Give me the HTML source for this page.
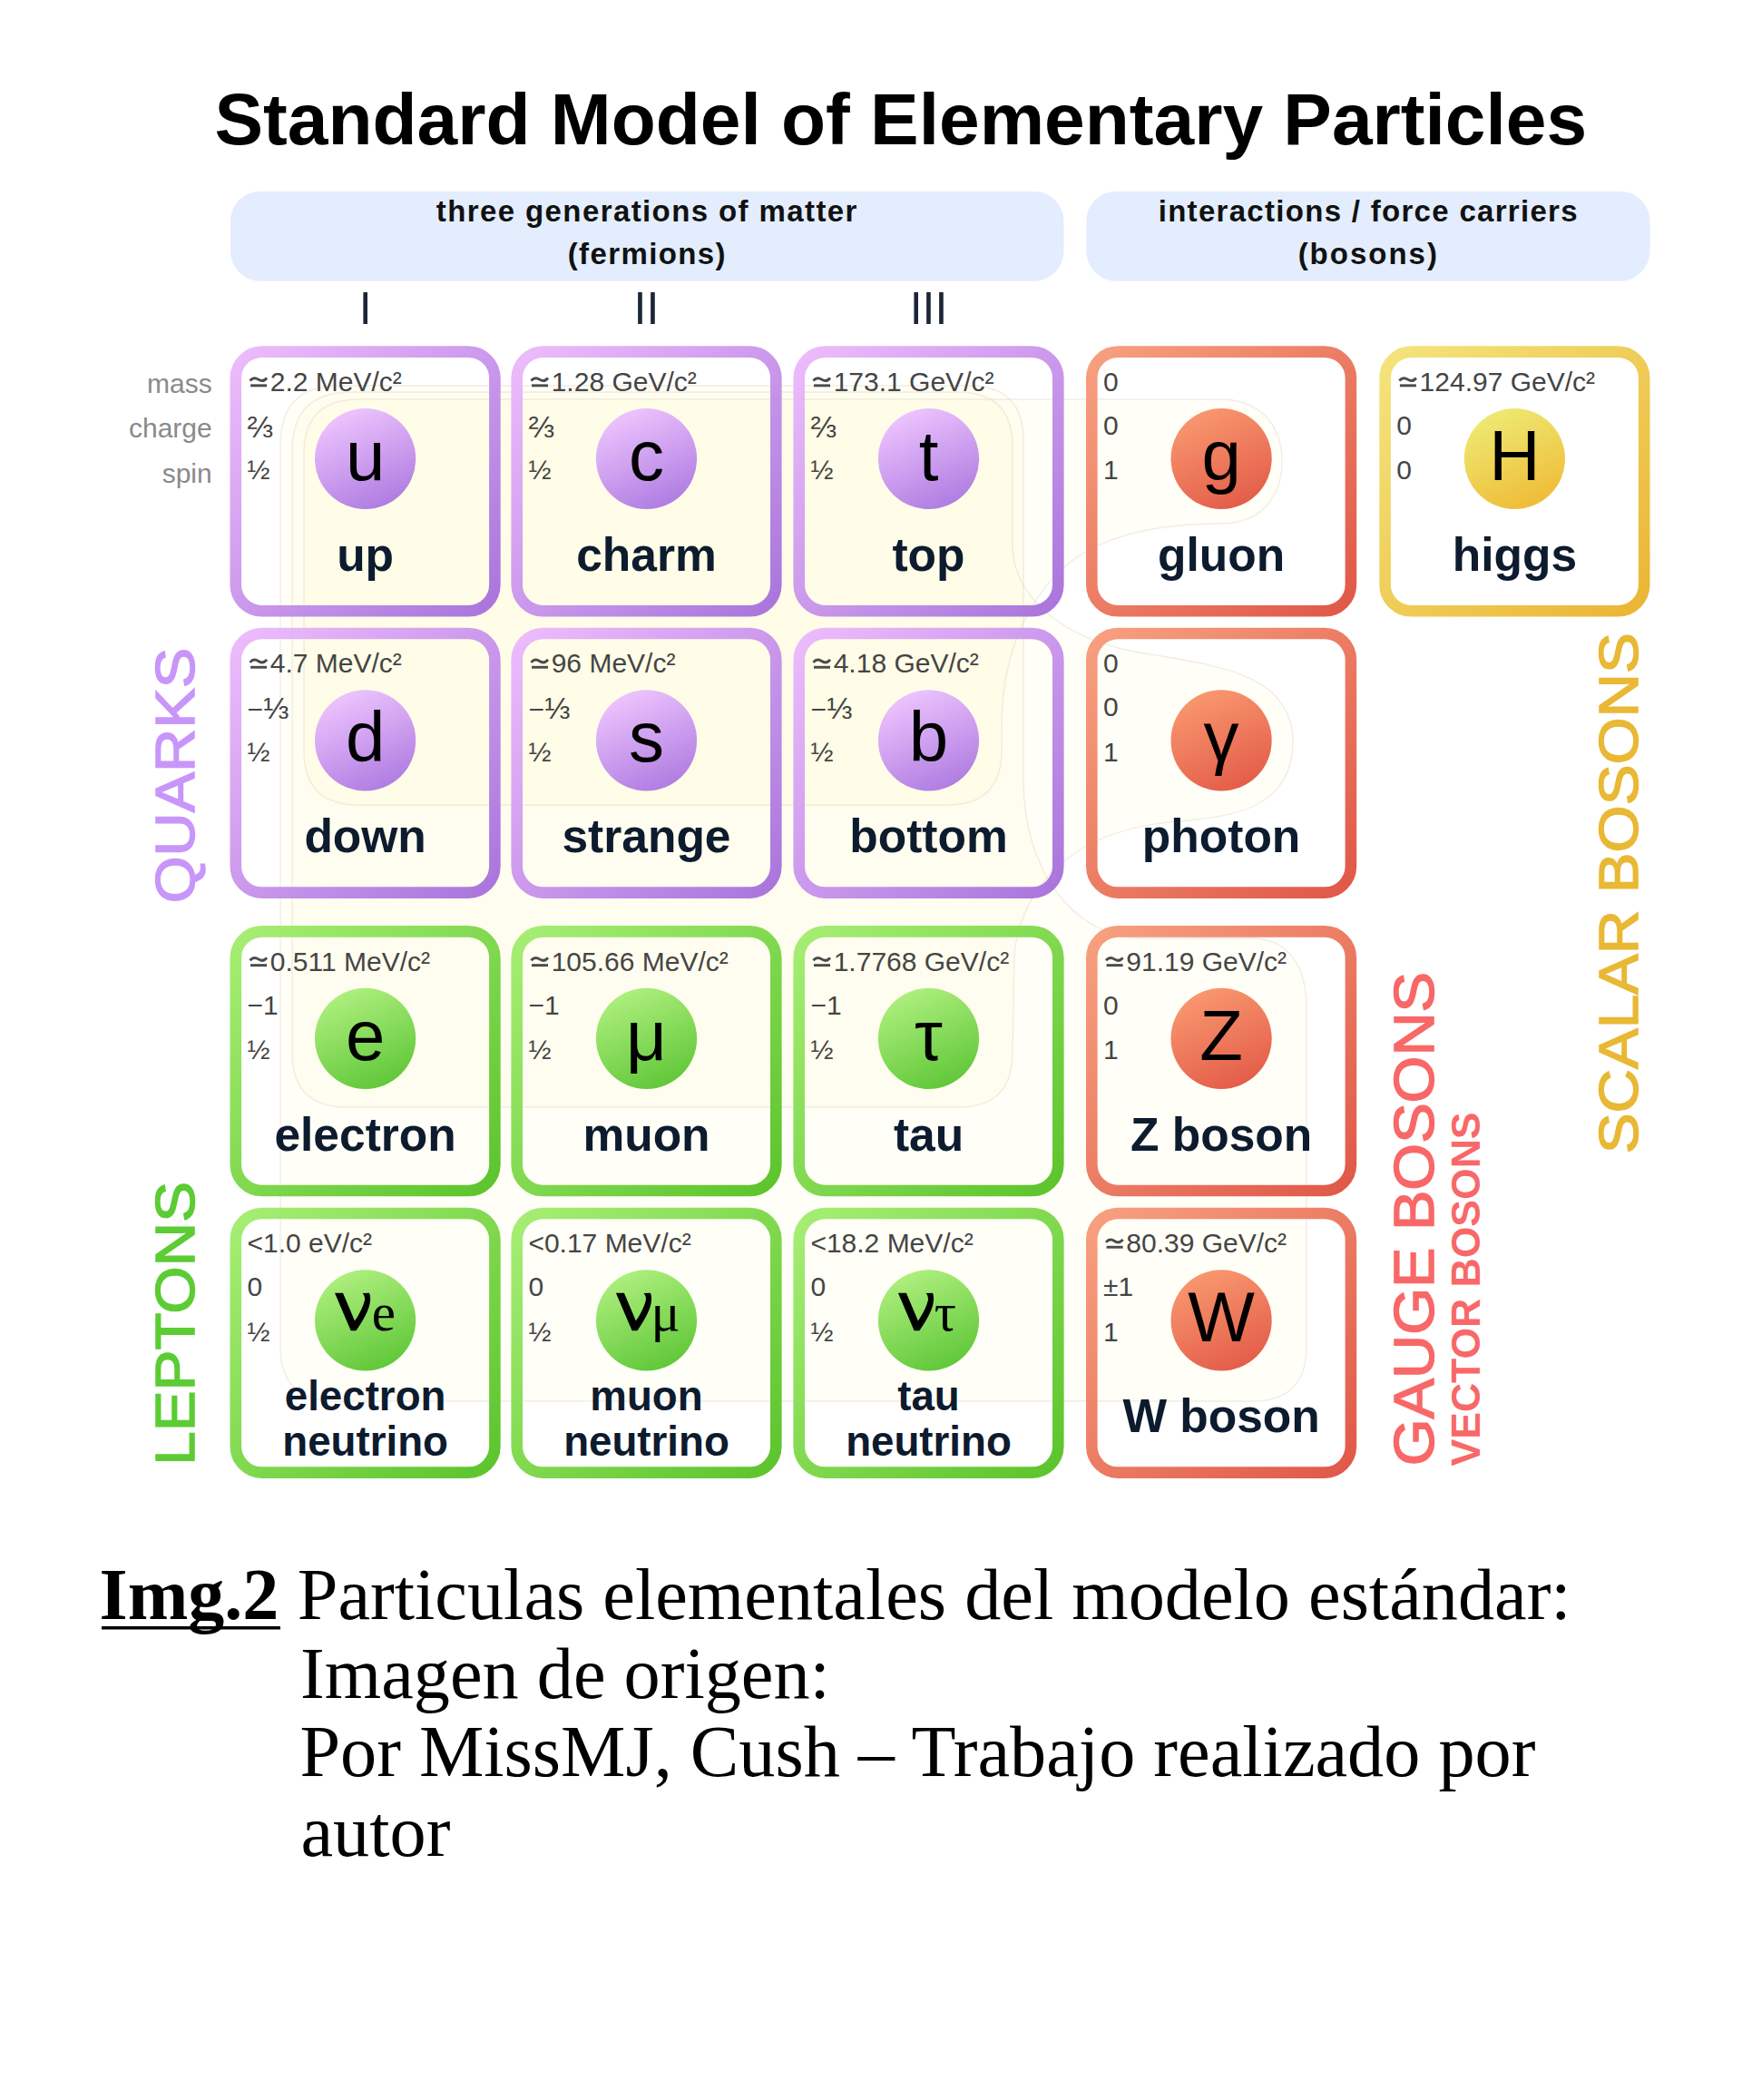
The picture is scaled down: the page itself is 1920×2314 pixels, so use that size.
<!DOCTYPE html>
<html><head><meta charset="utf-8"><title>Standard Model</title>
<style>html,body{margin:0;padding:0;background:#fff;width:1920px;height:2314px;overflow:hidden}svg{display:block}</style>
</head><body>
<svg width="1920" height="2314" viewBox="0 0 1920 2314">
<defs>
<linearGradient id="sq" x1="0" y1="0" x2="1" y2="1"><stop offset="0" stop-color="#edbcfc"/><stop offset="1" stop-color="#a975dc"/></linearGradient>
<linearGradient id="cq" x1="0.3" y1="0.05" x2="0.7" y2="0.95"><stop offset="0" stop-color="#ecc2fd"/><stop offset="1" stop-color="#b07ee2"/></linearGradient>
<linearGradient id="sl" x1="0" y1="0" x2="1" y2="1"><stop offset="0" stop-color="#a6ee74"/><stop offset="1" stop-color="#5cc42c"/></linearGradient>
<linearGradient id="cl" x1="0.3" y1="0.05" x2="0.7" y2="0.95"><stop offset="0" stop-color="#acee7c"/><stop offset="1" stop-color="#62c83a"/></linearGradient>
<linearGradient id="sg" x1="0" y1="0" x2="1" y2="1"><stop offset="0" stop-color="#f7a080"/><stop offset="1" stop-color="#e05848"/></linearGradient>
<linearGradient id="cg" x1="0.3" y1="0.05" x2="0.7" y2="0.95"><stop offset="0" stop-color="#f8966e"/><stop offset="1" stop-color="#e45e4a"/></linearGradient>
<linearGradient id="sh" x1="0" y1="0" x2="1" y2="1"><stop offset="0" stop-color="#f4e47c"/><stop offset="1" stop-color="#ebb534"/></linearGradient>
<linearGradient id="ch" x1="0.3" y1="0.05" x2="0.7" y2="0.95"><stop offset="0" stop-color="#eee872"/><stop offset="1" stop-color="#efbd38"/></linearGradient>
</defs>
<style>
text{font-family:"Liberation Sans",sans-serif}
.sm{font-size:30px;fill:#454545}
.fr{font-size:34px}
.sym{font-size:78px;fill:#000}
.nm{font-size:51.5px;font-weight:bold;fill:#0d1b2e}
.nm2{font-size:45.7px;font-weight:bold;fill:#0d1b2e}
.nu{font-family:"Liberation Serif",serif;font-size:78px;fill:#000}
.nus{font-family:"Liberation Serif",serif;font-size:60px;fill:#000}
.lbl{font-size:30px;fill:#8a8a8a}
.gen{font-size:50px;fill:#1b2636}
.ban{font-size:33px;font-weight:bold;fill:#111;letter-spacing:1.4px}
.big{font-size:67px}
.cap{font-family:"Liberation Serif",serif;font-size:80.25px;fill:#000}
</style>
<rect width="1920" height="2314" fill="#fff"/>
<text x="992.8" y="159.2" text-anchor="middle" style="font-size:80.3px;font-weight:bold" fill="#000">Standard Model of Elementary Particles</text>
<rect x="254" y="210.7" width="918.5" height="99" rx="33" fill="#e3edfe"/>
<rect x="1197.3" y="210.7" width="621.2" height="99" rx="33" fill="#e3edfe"/>
<text x="713.3" y="244" text-anchor="middle" class="ban">three generations of matter</text>
<text x="713.3" y="291" text-anchor="middle" class="ban">(fermions)</text>
<text x="1508.3" y="244" text-anchor="middle" class="ban" style="letter-spacing:1.3px">interactions / force carriers</text>
<text x="1508.3" y="291" text-anchor="middle" class="ban" style="letter-spacing:2.0px">(bosons)</text>
<text x="402.6" y="357.2" text-anchor="middle" class="gen">I</text>
<text x="712.5" y="357.2" text-anchor="middle" class="gen">II</text>
<text x="1023.5" y="357.2" text-anchor="middle" class="gen">III</text>
<text x="233.7" y="433.2" text-anchor="end" class="lbl">mass</text>
<text x="233.7" y="481.9" text-anchor="end" class="lbl">charge</text>
<text x="233.7" y="532" text-anchor="end" class="lbl">spin</text>
<path fill="#f6da30" fill-opacity="0.039" stroke="#d8cdb8" stroke-opacity="0.35" stroke-width="1.4" d="M309,490 Q309,425 374,425 L1068,425 Q1128,425 1128,485 L1128,860 C1128,960 1185,1034 1260,1034 L1380,1034 C1420,1034 1440,1065 1440,1110 L1440,1484 Q1440,1544 1380,1544 L369,1544 Q309,1544 309,1484 Z"/>
<path fill="#f6da30" fill-opacity="0.039" stroke="#d8cdb8" stroke-opacity="0.35" stroke-width="1.4" d="M322,497 Q322,432 387,432 L1056,432 Q1116,432 1116,492 L1116,600 C1116,650 1160,700 1250,718 C1330,732 1425,738 1425,817 C1425,890 1360,900 1300,905 C1200,912 1130,960 1118,1050 L1116,1160 Q1116,1220 1056,1220 L382,1220 Q322,1220 322,1160 Z"/>
<path fill="#f6da30" fill-opacity="0.039" stroke="#d8cdb8" stroke-opacity="0.35" stroke-width="1.4" d="M335,500 Q335,440 395,440 L1345,440 C1390,440 1413,470 1413,508 C1413,548 1390,577 1345,577 C1250,577 1185,600 1150,650 C1120,690 1104,740 1104,800 L1104,827 Q1104,887 1044,887 L395,887 Q335,887 335,827 Z"/>
<rect x="259.80" y="387.60" width="285.60" height="285.60" rx="29.0" fill="none" stroke="url(#sq)" stroke-width="12.6"/>
<circle cx="402.60" cy="505.50" r="55.6" fill="url(#cq)"/>
<path d="M275.5,419.5 c2.9,-3.3 6,-3.6 9.2,-1.4 s6.4,2.2 9.4,-1.6" stroke="#4a4a4a" stroke-width="2.9" fill="none"/><rect x="276.1" y="423.4" width="18" height="2.9" fill="#4a4a4a"/>
<text x="297.8" y="430.8" class="sm">2.2 MeV/c²</text>
<text x="272.5" y="481.8" class="sm"><tspan class=fr>⅔</tspan></text>
<text x="272.5" y="528.3" class="sm">½</text>
<text x="402.6" y="528.8" class="sym" text-anchor="middle">u</text>
<text x="402.6" y="629.0" class="nm" text-anchor="middle">up</text>
<rect x="569.70" y="387.60" width="285.60" height="285.60" rx="29.0" fill="none" stroke="url(#sq)" stroke-width="12.6"/>
<circle cx="712.50" cy="505.50" r="55.6" fill="url(#cq)"/>
<path d="M585.4,419.5 c2.9,-3.3 6,-3.6 9.2,-1.4 s6.4,2.2 9.4,-1.6" stroke="#4a4a4a" stroke-width="2.9" fill="none"/><rect x="586.0" y="423.4" width="18" height="2.9" fill="#4a4a4a"/>
<text x="607.7" y="430.8" class="sm">1.28 GeV/c²</text>
<text x="582.4" y="481.8" class="sm"><tspan class=fr>⅔</tspan></text>
<text x="582.4" y="528.3" class="sm">½</text>
<text x="712.5" y="528.8" class="sym" text-anchor="middle">c</text>
<text x="712.5" y="629.0" class="nm" text-anchor="middle">charm</text>
<rect x="880.70" y="387.60" width="285.60" height="285.60" rx="29.0" fill="none" stroke="url(#sq)" stroke-width="12.6"/>
<circle cx="1023.50" cy="505.50" r="55.6" fill="url(#cq)"/>
<path d="M896.4,419.5 c2.9,-3.3 6,-3.6 9.2,-1.4 s6.4,2.2 9.4,-1.6" stroke="#4a4a4a" stroke-width="2.9" fill="none"/><rect x="897.0" y="423.4" width="18" height="2.9" fill="#4a4a4a"/>
<text x="918.7" y="430.8" class="sm">173.1 GeV/c²</text>
<text x="893.4" y="481.8" class="sm"><tspan class=fr>⅔</tspan></text>
<text x="893.4" y="528.3" class="sm">½</text>
<text x="1023.5" y="528.8" class="sym" text-anchor="middle">t</text>
<text x="1023.5" y="629.0" class="nm" text-anchor="middle">top</text>
<rect x="1203.30" y="387.60" width="285.60" height="285.60" rx="29.0" fill="none" stroke="url(#sg)" stroke-width="12.6"/>
<circle cx="1346.10" cy="505.50" r="55.6" fill="url(#cg)"/>
<text x="1216.0" y="430.8" class="sm">0</text>
<text x="1216.0" y="478.8" class="sm">0</text>
<text x="1216.0" y="528.3" class="sm">1</text>
<text x="1346.1" y="528.8" class="sym" text-anchor="middle">g</text>
<text x="1346.1" y="629.0" class="nm" text-anchor="middle">gluon</text>
<rect x="1526.60" y="387.60" width="285.60" height="285.60" rx="29.0" fill="none" stroke="url(#sh)" stroke-width="12.6"/>
<circle cx="1669.40" cy="505.50" r="55.6" fill="url(#ch)"/>
<path d="M1542.3,419.5 c2.9,-3.3 6,-3.6 9.2,-1.4 s6.4,2.2 9.4,-1.6" stroke="#4a4a4a" stroke-width="2.9" fill="none"/><rect x="1542.9" y="423.4" width="18" height="2.9" fill="#4a4a4a"/>
<text x="1564.6" y="430.8" class="sm">124.97 GeV/c²</text>
<text x="1539.3" y="478.8" class="sm">0</text>
<text x="1539.3" y="528.3" class="sm">0</text>
<text x="1669.4" y="528.8" class="sym" text-anchor="middle">H</text>
<text x="1669.4" y="629.0" class="nm" text-anchor="middle">higgs</text>
<rect x="259.80" y="698.00" width="285.60" height="285.60" rx="29.0" fill="none" stroke="url(#sq)" stroke-width="12.6"/>
<circle cx="402.60" cy="815.90" r="55.6" fill="url(#cq)"/>
<path d="M275.5,729.9 c2.9,-3.3 6,-3.6 9.2,-1.4 s6.4,2.2 9.4,-1.6" stroke="#4a4a4a" stroke-width="2.9" fill="none"/><rect x="276.1" y="733.8" width="18" height="2.9" fill="#4a4a4a"/>
<text x="297.8" y="741.2" class="sm">4.7 MeV/c²</text>
<text x="272.5" y="792.2" class="sm">−<tspan class=fr>⅓</tspan></text>
<text x="272.5" y="838.7" class="sm">½</text>
<text x="402.6" y="839.2" class="sym" text-anchor="middle">d</text>
<text x="402.6" y="939.4" class="nm" text-anchor="middle">down</text>
<rect x="569.70" y="698.00" width="285.60" height="285.60" rx="29.0" fill="none" stroke="url(#sq)" stroke-width="12.6"/>
<circle cx="712.50" cy="815.90" r="55.6" fill="url(#cq)"/>
<path d="M585.4,729.9 c2.9,-3.3 6,-3.6 9.2,-1.4 s6.4,2.2 9.4,-1.6" stroke="#4a4a4a" stroke-width="2.9" fill="none"/><rect x="586.0" y="733.8" width="18" height="2.9" fill="#4a4a4a"/>
<text x="607.7" y="741.2" class="sm">96 MeV/c²</text>
<text x="582.4" y="792.2" class="sm">−<tspan class=fr>⅓</tspan></text>
<text x="582.4" y="838.7" class="sm">½</text>
<text x="712.5" y="839.2" class="sym" text-anchor="middle">s</text>
<text x="712.5" y="939.4" class="nm" text-anchor="middle">strange</text>
<rect x="880.70" y="698.00" width="285.60" height="285.60" rx="29.0" fill="none" stroke="url(#sq)" stroke-width="12.6"/>
<circle cx="1023.50" cy="815.90" r="55.6" fill="url(#cq)"/>
<path d="M896.4,729.9 c2.9,-3.3 6,-3.6 9.2,-1.4 s6.4,2.2 9.4,-1.6" stroke="#4a4a4a" stroke-width="2.9" fill="none"/><rect x="897.0" y="733.8" width="18" height="2.9" fill="#4a4a4a"/>
<text x="918.7" y="741.2" class="sm">4.18 GeV/c²</text>
<text x="893.4" y="792.2" class="sm">−<tspan class=fr>⅓</tspan></text>
<text x="893.4" y="838.7" class="sm">½</text>
<text x="1023.5" y="839.2" class="sym" text-anchor="middle">b</text>
<text x="1023.5" y="939.4" class="nm" text-anchor="middle">bottom</text>
<rect x="1203.30" y="698.00" width="285.60" height="285.60" rx="29.0" fill="none" stroke="url(#sg)" stroke-width="12.6"/>
<circle cx="1346.10" cy="815.90" r="55.6" fill="url(#cg)"/>
<text x="1216.0" y="741.2" class="sm">0</text>
<text x="1216.0" y="789.2" class="sm">0</text>
<text x="1216.0" y="838.7" class="sm">1</text>
<text x="1346.1" y="839.2" class="sym" text-anchor="middle">γ</text>
<text x="1346.1" y="939.4" class="nm" text-anchor="middle">photon</text>
<rect x="259.80" y="1026.40" width="285.60" height="285.60" rx="29.0" fill="none" stroke="url(#sl)" stroke-width="12.6"/>
<circle cx="402.60" cy="1144.30" r="55.6" fill="url(#cl)"/>
<path d="M275.5,1058.3 c2.9,-3.3 6,-3.6 9.2,-1.4 s6.4,2.2 9.4,-1.6" stroke="#4a4a4a" stroke-width="2.9" fill="none"/><rect x="276.1" y="1062.2" width="18" height="2.9" fill="#4a4a4a"/>
<text x="297.8" y="1069.6" class="sm">0.511 MeV/c²</text>
<text x="272.5" y="1117.6" class="sm">−1</text>
<text x="272.5" y="1167.1" class="sm">½</text>
<text x="402.6" y="1167.6" class="sym" text-anchor="middle">e</text>
<text x="402.6" y="1267.8" class="nm" text-anchor="middle">electron</text>
<rect x="569.70" y="1026.40" width="285.60" height="285.60" rx="29.0" fill="none" stroke="url(#sl)" stroke-width="12.6"/>
<circle cx="712.50" cy="1144.30" r="55.6" fill="url(#cl)"/>
<path d="M585.4,1058.3 c2.9,-3.3 6,-3.6 9.2,-1.4 s6.4,2.2 9.4,-1.6" stroke="#4a4a4a" stroke-width="2.9" fill="none"/><rect x="586.0" y="1062.2" width="18" height="2.9" fill="#4a4a4a"/>
<text x="607.7" y="1069.6" class="sm">105.66 MeV/c²</text>
<text x="582.4" y="1117.6" class="sm">−1</text>
<text x="582.4" y="1167.1" class="sm">½</text>
<text x="712.5" y="1167.6" class="sym" text-anchor="middle">μ</text>
<text x="712.5" y="1267.8" class="nm" text-anchor="middle">muon</text>
<rect x="880.70" y="1026.40" width="285.60" height="285.60" rx="29.0" fill="none" stroke="url(#sl)" stroke-width="12.6"/>
<circle cx="1023.50" cy="1144.30" r="55.6" fill="url(#cl)"/>
<path d="M896.4,1058.3 c2.9,-3.3 6,-3.6 9.2,-1.4 s6.4,2.2 9.4,-1.6" stroke="#4a4a4a" stroke-width="2.9" fill="none"/><rect x="897.0" y="1062.2" width="18" height="2.9" fill="#4a4a4a"/>
<text x="918.7" y="1069.6" class="sm">1.7768 GeV/c²</text>
<text x="893.4" y="1117.6" class="sm">−1</text>
<text x="893.4" y="1167.1" class="sm">½</text>
<text x="1023.5" y="1167.6" class="sym" text-anchor="middle">τ</text>
<text x="1023.5" y="1267.8" class="nm" text-anchor="middle">tau</text>
<rect x="1203.30" y="1026.40" width="285.60" height="285.60" rx="29.0" fill="none" stroke="url(#sg)" stroke-width="12.6"/>
<circle cx="1346.10" cy="1144.30" r="55.6" fill="url(#cg)"/>
<path d="M1219.0,1058.3 c2.9,-3.3 6,-3.6 9.2,-1.4 s6.4,2.2 9.4,-1.6" stroke="#4a4a4a" stroke-width="2.9" fill="none"/><rect x="1219.6" y="1062.2" width="18" height="2.9" fill="#4a4a4a"/>
<text x="1241.3" y="1069.6" class="sm">91.19 GeV/c²</text>
<text x="1216.0" y="1117.6" class="sm">0</text>
<text x="1216.0" y="1167.1" class="sm">1</text>
<text x="1346.1" y="1167.6" class="sym" text-anchor="middle">Z</text>
<text x="1346.1" y="1267.8" class="nm" text-anchor="middle">Z boson</text>
<rect x="259.80" y="1337.00" width="285.60" height="285.60" rx="29.0" fill="none" stroke="url(#sl)" stroke-width="12.6"/>
<circle cx="402.60" cy="1454.90" r="55.6" fill="url(#cl)"/>
<text x="272.5" y="1380.2" class="sm"><1.0 eV/c²</text>
<text x="272.5" y="1428.2" class="sm">0</text>
<text x="272.5" y="1477.7" class="sm">½</text>
<path transform="translate(402.60,1466.20)" d="M-33.6,-41.4 L-24.6,-41.4 L-11.6,-10.6 C-6.9,-17.6 -2.6,-25.8 -0.7,-33.2 C-0.1,-36.2 -1.0,-39.2 -3.0,-41.2 L4.4,-41.4 C5.9,-38.2 5.9,-34.2 4.9,-29.2 C2.9,-20.2 -3.6,-9.2 -10.1,0 L-15.9,0 Z" fill="#000"/>
<text x="409.7" y="1466.2" class="nus" style="font-size:59px">e</text>
<text x="402.6" y="1554.2" class="nm2" text-anchor="middle">electron</text>
<text x="402.6" y="1604.3" class="nm2" text-anchor="middle">neutrino</text>
<rect x="569.70" y="1337.00" width="285.60" height="285.60" rx="29.0" fill="none" stroke="url(#sl)" stroke-width="12.6"/>
<circle cx="712.50" cy="1454.90" r="55.6" fill="url(#cl)"/>
<text x="582.4" y="1380.2" class="sm"><0.17 MeV/c²</text>
<text x="582.4" y="1428.2" class="sm">0</text>
<text x="582.4" y="1477.7" class="sm">½</text>
<path transform="translate(712.50,1466.20)" d="M-33.6,-41.4 L-24.6,-41.4 L-11.6,-10.6 C-6.9,-17.6 -2.6,-25.8 -0.7,-33.2 C-0.1,-36.2 -1.0,-39.2 -3.0,-41.2 L4.4,-41.4 C5.9,-38.2 5.9,-34.2 4.9,-29.2 C2.9,-20.2 -3.6,-9.2 -10.1,0 L-15.9,0 Z" fill="#000"/>
<text x="717.5" y="1466.2" class="nus" style="font-size:60px">μ</text>
<text x="712.5" y="1554.2" class="nm2" text-anchor="middle">muon</text>
<text x="712.5" y="1604.3" class="nm2" text-anchor="middle">neutrino</text>
<rect x="880.70" y="1337.00" width="285.60" height="285.60" rx="29.0" fill="none" stroke="url(#sl)" stroke-width="12.6"/>
<circle cx="1023.50" cy="1454.90" r="55.6" fill="url(#cl)"/>
<text x="893.4" y="1380.2" class="sm"><18.2 MeV/c²</text>
<text x="893.4" y="1428.2" class="sm">0</text>
<text x="893.4" y="1477.7" class="sm">½</text>
<path transform="translate(1023.50,1466.20)" d="M-33.6,-41.4 L-24.6,-41.4 L-11.6,-10.6 C-6.9,-17.6 -2.6,-25.8 -0.7,-33.2 C-0.1,-36.2 -1.0,-39.2 -3.0,-41.2 L4.4,-41.4 C5.9,-38.2 5.9,-34.2 4.9,-29.2 C2.9,-20.2 -3.6,-9.2 -10.1,0 L-15.9,0 Z" fill="#000"/>
<text x="1029.8" y="1466.2" class="nus" style="font-size:60px">τ</text>
<text x="1023.5" y="1554.2" class="nm2" text-anchor="middle">tau</text>
<text x="1023.5" y="1604.3" class="nm2" text-anchor="middle">neutrino</text>
<rect x="1203.30" y="1337.00" width="285.60" height="285.60" rx="29.0" fill="none" stroke="url(#sg)" stroke-width="12.6"/>
<circle cx="1346.10" cy="1454.90" r="55.6" fill="url(#cg)"/>
<path d="M1219.0,1368.9 c2.9,-3.3 6,-3.6 9.2,-1.4 s6.4,2.2 9.4,-1.6" stroke="#4a4a4a" stroke-width="2.9" fill="none"/><rect x="1219.6" y="1372.8" width="18" height="2.9" fill="#4a4a4a"/>
<text x="1241.3" y="1380.2" class="sm">80.39 GeV/c²</text>
<text x="1216.0" y="1428.2" class="sm">±1</text>
<text x="1216.0" y="1477.7" class="sm">1</text>
<text x="1346.1" y="1478.2" class="sym" text-anchor="middle">W</text>
<text x="1346.1" y="1578.4" class="nm" text-anchor="middle">W boson</text>
<text transform="translate(214.3,995.3) rotate(-90) scale(1.075,1)" style="font-size:62px;stroke-width:1.5px" fill="#c896f8" stroke="#c896f8">QUARKS</text>
<text transform="translate(213.8,1614.7) rotate(-90) scale(1.085,1)" style="font-size:62px;stroke-width:1.5px" fill="#5ccc34" stroke="#5ccc34">LEPTONS</text>
<text transform="translate(1579.9,1615.2) rotate(-90) scale(1.0745,1)" style="font-size:62px;stroke-width:1.5px" fill="#f86868" stroke="#f86868">GAUGE BOSONS</text>
<text transform="translate(1631.2,1615.5) rotate(-90) scale(1.012,1)" style="font-size:44px;stroke-width:0;font-weight:bold" fill="#f86868" stroke="#f86868">VECTOR BOSONS</text>
<text transform="translate(1804.7,1271.2) rotate(-90) scale(1.082,1)" style="font-size:62px;stroke-width:1.5px" fill="#e9b834" stroke="#e9b834">SCALAR BOSONS</text>
<text x="109.5" y="1783.8" style="font-family:'Liberation Serif',serif;font-size:80px;font-weight:bold">Img.2</text>
<rect x="112" y="1792" width="197" height="3.5" fill="#000"/>
<text x="327.8" y="1783.8" class="cap">Particulas elementales del modelo estándar:</text>
<text x="331.1" y="1870.6" class="cap">Imagen de origen:</text>
<text x="330.4" y="1957" class="cap">Por MissMJ, Cush – Trabajo realizado por</text>
<text x="331.5" y="2044.5" class="cap">autor</text>
</svg>
</body></html>
